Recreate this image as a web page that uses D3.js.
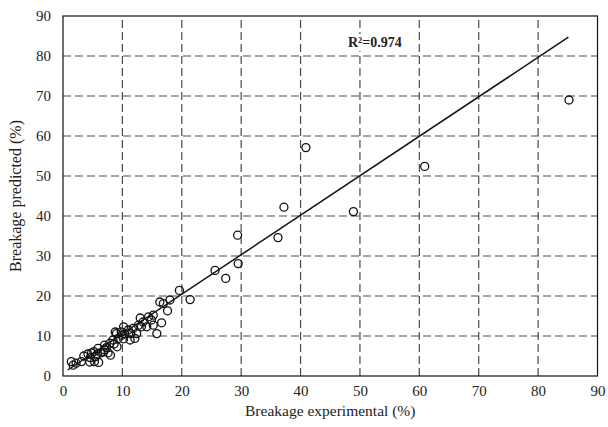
<!DOCTYPE html>
<html>
<head>
<meta charset="utf-8">
<script src="https://cdn.jsdelivr.net/npm/d3@7"></script>
<style>
  body { margin: 0; background: #fff; }
  text { font-family: "Liberation Serif", "DejaVu Serif", serif; fill: #222; }
</style>
</head>
<body>
<svg id="chart" width="608" height="427"></svg>
<script>
// measured points (experimental, predicted)
var expValues = [1.4, 1.7, 2.2, 3.1, 3.5, 4.5, 5.3, 6.0, 4.2, 4.8, 5.2, 5.8, 6.4, 7.0, 7.6, 8.0,
  7.0, 7.9, 8.4, 9.3, 9.0, 9.8, 5.9, 9.1, 10.4, 9.9, 11.0, 11.4, 12.4, 11.8, 12.7, 13.2, 13.5,
  11.3, 12.1, 14.9, 14.4, 15.2, 15.2, 16.6, 15.8, 16.3, 16.9, 18.0, 17.6, 19.6, 21.4, 25.6,
  27.4, 29.4, 29.5, 36.2, 37.2, 40.9, 48.9, 60.9, 85.2,
  4.6, 5.5, 6.8, 7.3, 8.6, 10.2, 10.2, 13.0, 14.1, 8.8];
var predValues = [3.6, 2.7, 3.2, 3.6, 5.0, 3.5, 3.6, 3.4, 5.5, 5.7, 6.1, 5.5, 5.8, 6.5, 5.8, 5.2,
  7.7, 8.2, 9.0, 9.4, 10.6, 11.0, 6.9, 7.3, 10.6, 10.2, 11.5, 10.6, 10.6, 11.9, 12.7, 12.3, 13.5,
  9.0, 9.4, 14.0, 14.8, 15.2, 12.7, 13.3, 10.6, 18.5, 18.1, 19.0, 16.3, 21.4, 19.1, 26.4,
  24.4, 35.2, 28.1, 34.6, 42.2, 57.1, 41.1, 52.4, 69.0,
  4.6, 4.8, 6.0, 7.1, 8.0, 9.3, 12.3, 14.5, 12.3, 11.0];

// fitted line end points
var fitX = [0.8, 85.1];
var fitY = [1.5, 84.7];

var xTicks = [0, 10, 20, 30, 40, 50, 60, 70, 80, 90];
var yTicks = [0, 10, 20, 30, 40, 50, 60, 70, 80, 90];

var r2Label = "R\u00b2=0.974";

var margin = {left: 63, right: 10.5, top: 16, bottom: 51};
var width = 608, height = 427;

var svg = d3.select("#chart");

var x = d3.scaleLinear().domain([0, 90]).range([margin.left, width - margin.right]);
var y = d3.scaleLinear().domain([0, 90]).range([height - margin.bottom, margin.top]);

// grid
var grid = svg.append("g").attr("class", "grid")
  .attr("stroke", "#4a4a4a").attr("stroke-width", 1.2).attr("stroke-dasharray", "8,4");

grid.selectAll("line.v")
  .data(xTicks.slice(1, -1))
  .enter().append("line")
  .attr("class", "v")
  .attr("x1", function(d){ return x(d); })
  .attr("x2", function(d){ return x(d); })
  .attr("y1", y(0))
  .attr("y2", y(90));

grid.selectAll("line.h")
  .data(yTicks.slice(1, -1))
  .enter().append("line")
  .attr("class", "h")
  .attr("y1", function(d){ return y(d); })
  .attr("y2", function(d){ return y(d); })
  .attr("x1", x(0))
  .attr("x2", x(90));

// frame
svg.append("rect")
  .attr("x", x(0)).attr("y", y(90))
  .attr("width", x(90) - x(0)).attr("height", y(0) - y(90))
  .attr("fill", "none").attr("stroke", "#111").attr("stroke-width", 1.2);

// axes (labels only)
var xAxis = svg.append("g")
  .attr("transform", "translate(0," + y(0) + ")")
  .call(d3.axisBottom(x).tickValues(xTicks).tickSize(0).tickPadding(9));
var yAxis = svg.append("g")
  .attr("transform", "translate(" + x(0) + ",0)")
  .call(d3.axisLeft(y).tickValues(yTicks).tickSize(0).tickPadding(12));

[xAxis, yAxis].forEach(function(a){
  a.select(".domain").remove();
  a.selectAll("text")
    .attr("font-family", "Liberation Serif, serif")
    .attr("font-size", 15)
    .attr("fill", "#222");
});

// fitted line
svg.append("line")
  .attr("x1", x(fitX[0])).attr("y1", y(fitY[0]))
  .attr("x2", x(fitX[1])).attr("y2", y(fitY[1]))
  .attr("stroke", "#111").attr("stroke-width", 1.5);

// points
var pts = expValues.map(function(v, i){ return {e: v, p: predValues[i]}; });
svg.append("g").selectAll("circle")
  .data(pts)
  .enter().append("circle")
  .attr("cx", function(d){ return x(d.e); })
  .attr("cy", function(d){ return y(d.p); })
  .attr("r", 4)
  .attr("fill", "none")
  .attr("stroke", "#111")
  .attr("stroke-width", 1.3);

// R2 label on a white patch so the grid line does not run through it
var r2 = svg.append("g");
var r2Text = r2.append("text")
  .attr("x", 348).attr("y", 47)
  .attr("font-size", 14).attr("font-weight", "bold")
  .attr("fill", "#111")
  .text(r2Label);
var bb = r2Text.node().getBBox();
r2.insert("rect", "text")
  .attr("x", bb.x - 2).attr("y", bb.y - 1)
  .attr("width", bb.width + 4).attr("height", bb.height + 2)
  .attr("fill", "#fff");

// axis titles
svg.append("text")
  .attr("x", (x(0) + x(90)) / 2).attr("y", 416)
  .attr("text-anchor", "middle").attr("font-size", 15.5)
  .text("Breakage experimental (%)");

svg.append("text")
  .attr("transform", "translate(21," + ((y(0) + y(90)) / 2) + ") rotate(-90)")
  .attr("text-anchor", "middle").attr("font-size", 16)
  .text("Breakage predicted (%)");
</script>
</body>
</html>
